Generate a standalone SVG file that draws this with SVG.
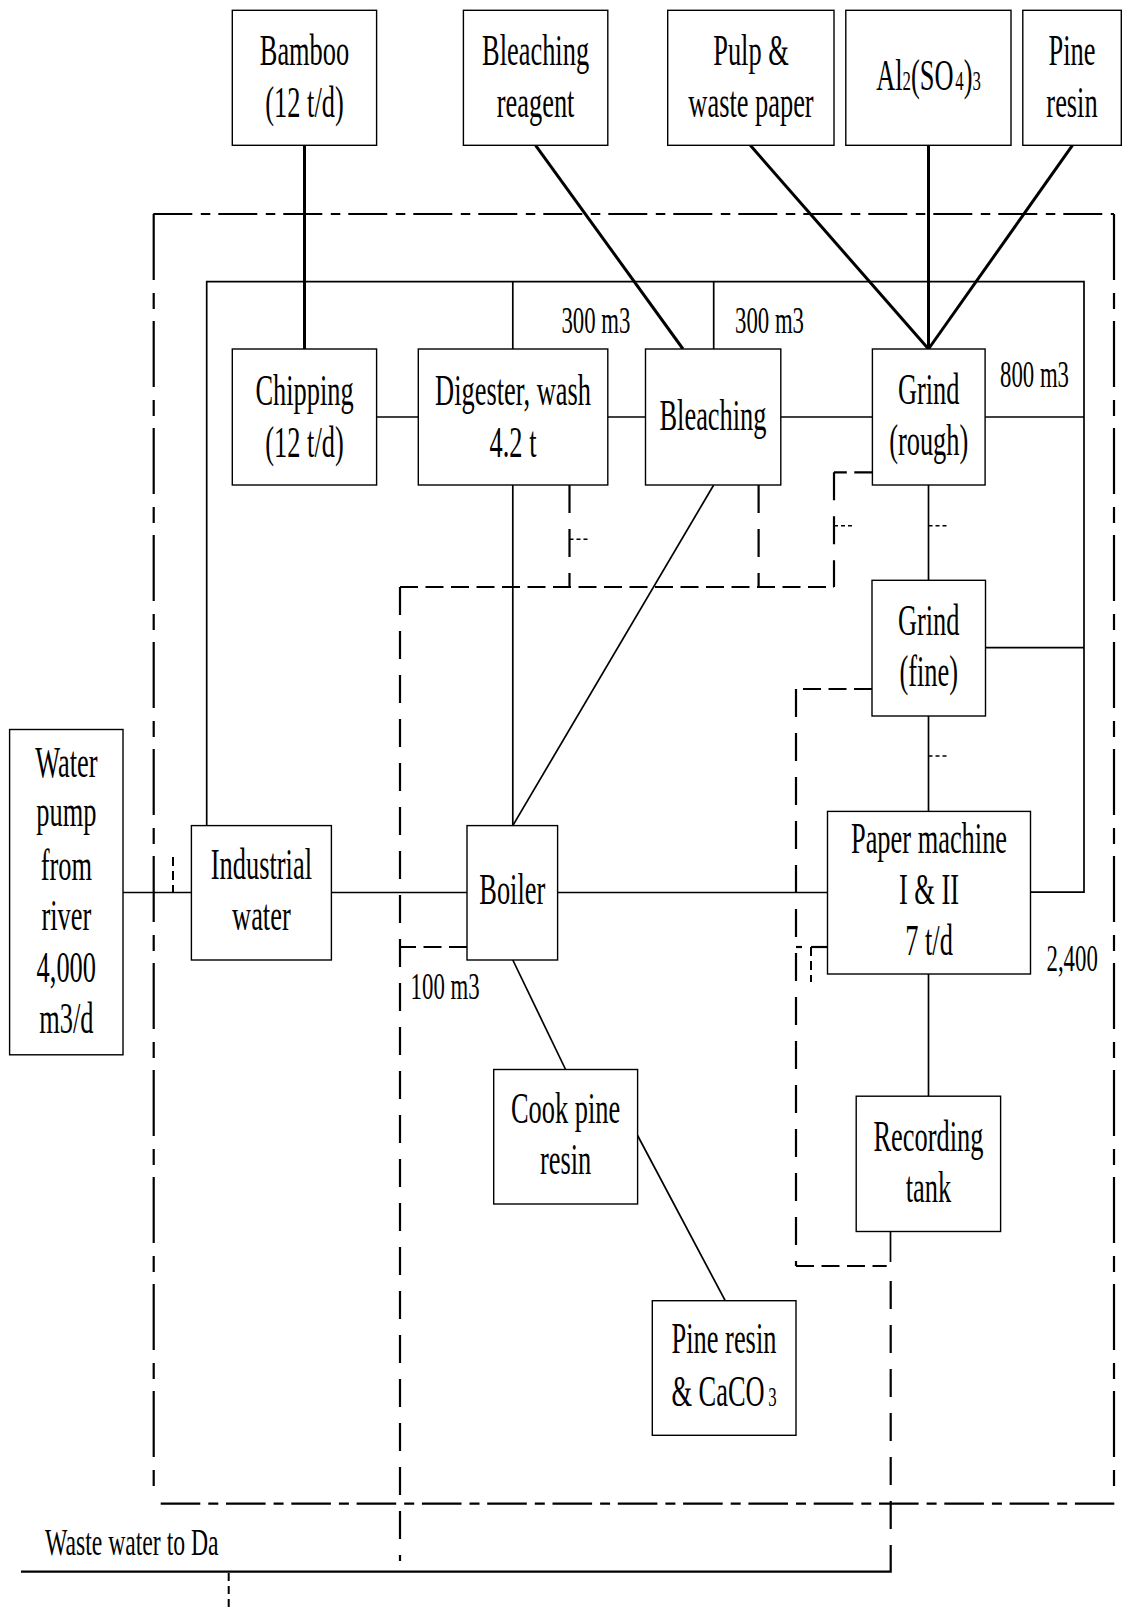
<svg xmlns="http://www.w3.org/2000/svg" width="1123" height="1611" viewBox="0 0 1123 1611">
<style>
rect.box{fill:#fff;stroke:#000;stroke-width:1.4}
text{font-family:"Liberation Serif","Times New Roman",serif;fill:#000}
text.n{font-size:44px;text-anchor:middle}
text.lb{font-size:38px}
.s{fill:none;stroke:#000;stroke-width:1.7}
.t{fill:none;stroke:#000;stroke-width:3}
.dd{fill:none;stroke:#000;stroke-width:2.2}
.ddh{stroke-dasharray:39 8.5 9.5 8}
.ddv{stroke-dasharray:66 13 16 12}
.dv{fill:none;stroke:#000;stroke-width:2.2;stroke-dasharray:28 16}
.dh{fill:none;stroke:#000;stroke-width:2.2;stroke-dasharray:18 7.5}
.tk{fill:none;stroke:#000;stroke-width:1.6;stroke-dasharray:4 3}
.sd{fill:none;stroke:#000;stroke-width:2;stroke-dasharray:9 5}
</style>
<rect width="1123" height="1611" fill="#fff"/>
<g id="connectors">
  <!-- outer dash-dot boundary -->
  <path class="dd ddh" d="M153.3,214 H1114"/>
  <path class="dd ddv" d="M153.7,214 V1487"/>
  <path class="dd ddv" d="M1114,214 V1487"/>
  <path class="dd" style="stroke-dasharray:39.6 8 10 7.7" d="M160.7,1503.7 H1114.3"/>
  <!-- thick input lines -->
  <path class="t" d="M304.5,145.3 V349"/>
  <path class="t" d="M535.6,145.3 L683,349"/>
  <path class="t" d="M750.3,145.3 L928.5,349"/>
  <path class="t" d="M928.5,145.3 V349"/>
  <path class="t" d="M1072.4,145.3 L928.5,349"/>
  <!-- solid water lines -->
  <path class="s" d="M206.7,825.6 V281.7 H1084 V892.2 H1030.4"/>
  <path class="s" d="M512.8,281.7 V349"/>
  <path class="s" d="M713.7,281.7 V349"/>
  <path class="s" d="M376.6,417 H418.3"/>
  <path class="s" d="M607.8,417 H645.5"/>
  <path class="s" d="M780.8,417 H872.4"/>
  <path class="s" d="M985.1,417 H1084"/>
  <path class="s" d="M985.5,647.6 H1084"/>
  <path class="s" d="M512.8,485 V825.6"/>
  <path class="s" d="M713.7,485 L512.8,825.6"/>
  <path class="s" d="M928.5,485 V580.3"/>
  <path class="s" d="M928.5,716 V811.4"/>
  <path class="s" d="M123,892.5 H191.4"/>
  <path class="s" d="M331.4,892.5 H467"/>
  <path class="s" d="M557.6,892.5 H827.5"/>
  <path class="s" d="M512.8,960 L565.6,1069.5"/>
  <path class="s" d="M637.6,1135.5 L725.2,1300.7"/>
  <path class="s" d="M928.5,974 V1096.2"/>
  <path class="s" d="M890.5,1231.5 V1262"/>
  <path class="s" style="stroke-width:2.2" d="M21,1571.7 H890.7 V1545"/>
  <!-- dashed waste water lines -->
  <path class="dh" d="M400,587 H834"/>
  <path class="dv" d="M400,587 V1561"/>
  <path class="dv" d="M569.5,485 V587"/>
  <path class="dv" d="M758.6,485 V587"/>
  <path class="dh" d="M872.3,472.3 H834"/>
  <path class="dv" d="M834,472.3 V587"/>
  <path class="dh" d="M467,947 H400"/>
  <path class="dh" d="M872,689 H796"/>
  <path class="dv" d="M796,689 V1266"/>
  <path class="dh" d="M796,1266 H886.7"/>
  <path class="dv" style="stroke-dashoffset:-2" d="M890.7,1279 V1545"/>
  <!-- small ticks -->
  <path class="tk" d="M569.5,539.3 H589"/>
  <path class="tk" d="M834,525.7 H854"/>
  <path class="tk" d="M928.5,525.7 H948.3"/>
  <path class="tk" d="M928.5,756 H948.3"/>
  <path class="sd" d="M173,857 V892.5"/>
  <path class="s" style="stroke-width:2.2" d="M827.3,947 H811"/>
  <path class="s" style="stroke-width:2.2" d="M802,947 H796"/>
  <path class="sd" d="M811,947 V982"/>
  <path class="sd" style="stroke-dasharray:8 5" d="M228.7,1573 V1611"/>
</g>
<g id="bamboo"><rect class="box" x="232.3" y="10.3" width="144.3" height="135"/>
<text class="n" transform="translate(304.5,0) scale(0.6,1)"><tspan x="0" y="65">Bamboo</tspan><tspan x="0" y="117">(12 t/d)</tspan></text></g>
<g id="bleaching-reagent"><rect class="box" x="463.4" y="10.3" width="144.4" height="135"/>
<text class="n" transform="translate(535.6,0) scale(0.6,1)"><tspan x="0" y="65">Bleaching</tspan><tspan x="0" y="117">reagent</tspan></text></g>
<g id="pulp"><rect class="box" x="667.7" y="10.3" width="166.3" height="135"/>
<text class="n" transform="translate(751,0) scale(0.6,1)"><tspan x="0" y="65">Pulp &amp;</tspan><tspan x="0" y="117">waste paper</tspan></text></g>
<g id="alum"><rect class="box" x="845.8" y="10.3" width="165.2" height="135"/>
<text class="n" transform="translate(928.5,0) scale(0.6,1)" x="0" y="90">Al<tspan font-size="28">2</tspan>(SO<tspan font-size="28" dx="3">4</tspan>)<tspan font-size="28">3</tspan></text></g>
<g id="pine-resin"><rect class="box" x="1022.8" y="10.3" width="98.5" height="135"/>
<text class="n" transform="translate(1072,0) scale(0.6,1)"><tspan x="0" y="65">Pine</tspan><tspan x="0" y="117">resin</tspan></text></g>
<g id="chipping"><rect class="box" x="232.3" y="349" width="144.3" height="136"/>
<text class="n" transform="translate(304.5,0) scale(0.6,1)"><tspan x="0" y="405">Chipping</tspan><tspan x="0" y="457">(12 t/d)</tspan></text></g>
<g id="digester"><rect class="box" x="418.3" y="349" width="189.5" height="136"/>
<text class="n" transform="translate(513,0) scale(0.6,1)"><tspan x="0" y="405">Digester, wash</tspan><tspan x="0" y="457">4.2 t</tspan></text></g>
<g id="bleaching"><rect class="box" x="645.5" y="349" width="135.3" height="136"/>
<text class="n" transform="translate(713,0) scale(0.6,1)" x="0" y="430">Bleaching</text></g>
<g id="grind-rough"><rect class="box" x="872.4" y="349" width="112.7" height="136"/>
<text class="n" transform="translate(928.7,0) scale(0.6,1)"><tspan x="0" y="404">Grind</tspan><tspan x="0" y="455">(rough)</tspan></text></g>
<g id="grind-fine"><rect class="box" x="872" y="580.3" width="113.5" height="135.7"/>
<text class="n" transform="translate(928.7,0) scale(0.6,1)"><tspan x="0" y="635">Grind</tspan><tspan x="0" y="686">(fine)</tspan></text></g>
<g id="paper-machine"><rect class="box" x="827.5" y="811.4" width="203" height="162.6"/>
<text class="n" transform="translate(929,0) scale(0.6,1)"><tspan x="0" y="853">Paper machine</tspan><tspan x="0" y="904">I &amp; II</tspan><tspan x="0" y="955">7 t/d</tspan></text></g>
<g id="industrial-water"><rect class="box" x="191.4" y="825.6" width="140" height="134.4"/>
<text class="n" transform="translate(261.4,0) scale(0.6,1)"><tspan x="0" y="879">Industrial</tspan><tspan x="0" y="930">water</tspan></text></g>
<g id="boiler"><rect class="box" x="467" y="825.6" width="90.6" height="134.4"/>
<text class="n" transform="translate(512.3,0) scale(0.6,1)" x="0" y="904">Boiler</text></g>
<g id="water-pump"><rect class="box" x="9.6" y="729.5" width="113.4" height="325.3"/>
<text class="n" transform="translate(66.3,0) scale(0.6,1)"><tspan x="0" y="776.6">Water</tspan><tspan x="0" y="826.5">pump</tspan><tspan x="0" y="880">from</tspan><tspan x="0" y="930">river</tspan><tspan x="0" y="982">4,000</tspan><tspan x="0" y="1033.5">m3/d</tspan></text></g>
<g id="cook-pine-resin"><rect class="box" x="493.7" y="1069.5" width="143.9" height="134.5"/>
<text class="n" transform="translate(565.6,0) scale(0.6,1)"><tspan x="0" y="1123">Cook pine</tspan><tspan x="0" y="1174">resin</tspan></text></g>
<g id="recording-tank"><rect class="box" x="856.2" y="1096.2" width="144.4" height="135.3"/>
<text class="n" transform="translate(928.4,0) scale(0.6,1)"><tspan x="0" y="1150.6">Recording</tspan><tspan x="0" y="1201.6">tank</tspan></text></g>
<g id="pine-resin-caco3"><rect class="box" x="652.3" y="1300.7" width="143.7" height="134.6"/>
<text class="n" transform="translate(724,0) scale(0.6,1)"><tspan x="0" y="1353.4">Pine resin</tspan><tspan x="0" y="1406">&amp; CaCO<tspan font-size="28" dx="6">3</tspan></tspan></text></g>
<g id="labels">
<text class="lb" transform="translate(561.4,0) scale(0.6,1)" x="0" y="333">300 m3</text>
<text class="lb" transform="translate(735,0) scale(0.6,1)" x="0" y="333">300 m3</text>
<text class="lb" transform="translate(1000,0) scale(0.6,1)" x="0" y="387">800 m3</text>
<text class="lb" transform="translate(410.6,0) scale(0.6,1)" x="0" y="998.6">100 m3</text>
<text class="lb" transform="translate(1046.5,0) scale(0.6,1)" x="0" y="970.6">2,400</text>
<text class="lb" style="font-size:37px" transform="translate(45,0) scale(0.64,1)" x="0" y="1554.7">Waste water to Da</text>
</g>
</svg>
